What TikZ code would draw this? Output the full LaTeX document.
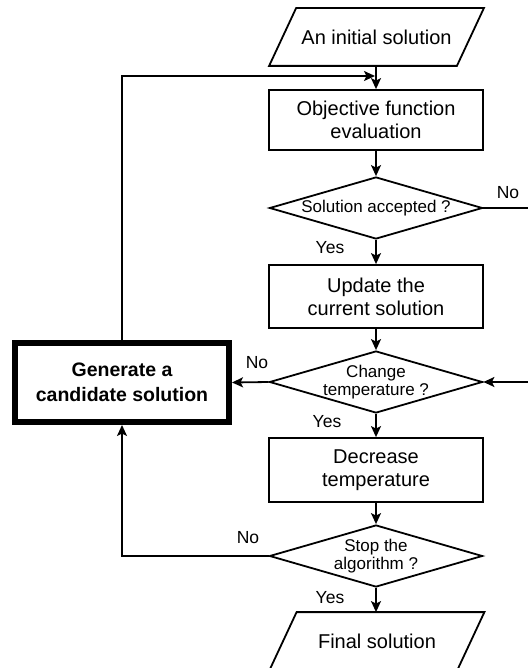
\documentclass[tikz,border=0pt]{standalone}
\usepackage{fontspec}
\setmainfont{Liberation Sans}
\usetikzlibrary{shapes.geometric,arrows.meta}
\begin{document}
\begin{tikzpicture}[x=1pt,y=-1pt,
  line width=1.8pt,
  >={Stealth[length=11pt,width=10pt,inset=2.5pt]},
  proc/.style={draw,rectangle,minimum width=214pt,minimum height=60pt,inner sep=0pt,align=center,font=\fontsize{20}{23}\selectfont},
  io/.style={rectangle,minimum width=186pt,minimum height=56pt,inner sep=0pt,font=\fontsize{20}{23}\selectfont},
  decision/.style={draw,diamond,aspect=3.43,minimum width=213pt,minimum height=62pt,inner sep=0pt},
  dtext/.style={align=center,inner sep=0pt,font=\fontsize{17}{18}\selectfont},
  lab/.style={font=\fontsize{17.5}{20}\selectfont,inner sep=0pt},
  genbox/.style={draw,rectangle,line width=6pt,minimum width=214pt,minimum height=79pt,inner sep=0pt,align=center,font=\bfseries\fontsize{19.5}{25}\selectfont}
]
\useasboundingbox (0,0) rectangle (527,668);

\node[io] (init) at (376.5,37) {An initial solution};
\draw ([xshift=13.5pt]init.north west) -- ([xshift=13.5pt]init.north east)
   -- ([xshift=-13.5pt]init.south east) -- ([xshift=-13.5pt]init.south west) -- cycle;
\node[proc] (obj) at (376,120) {Objective function\\evaluation};
\node[decision,label={[dtext]center:Solution accepted ?}] (d1) at (376,208) {};
\node[proc,minimum height=63pt] (upd) at (376,296.5) {Update the\\current solution};
\node[decision,label={[dtext]center:Change\\temperature ?}] (d2) at (376,382) {};
\node[proc,minimum height=64pt] (decr) at (376,470) {Decrease\\temperature};
\node[decision,label={[dtext]center:Stop the\\algorithm ?}] (d3) at (376,556) {};
\node[io] (fin) at (377,641) {Final solution};
\draw ([xshift=13.5pt]fin.north west) -- ([xshift=13.5pt]fin.north east)
   -- ([xshift=-13.5pt]fin.south east) -- ([xshift=-13.5pt]fin.south west) -- cycle;
\node[genbox] (gen) at (122,382.5) {Generate a\\candidate solution};

\coordinate (fb) at (122,76);
\coordinate (fbin) at (375,76);
\coordinate (r1) at (540,208);
\coordinate (r2) at (540,382);
\coordinate (s1) at (122,556);

\draw[->] (init.south -| obj.north) -- (obj.north);
\draw[->] (obj) -- (d1);
\draw[->] (d1) -- (upd);
\draw[->] (upd) -- (d2);
\draw[->] (d2) -- (decr);
\draw[->] (decr) -- (d3);
\draw[->] (d3.south) -- (fin.north -| d3.south);
\draw[->] (d1.east) -- (r1) -- (r2) -- (d2.east);
\draw[->] (d2.west) -- (gen.east);
\draw[->] (d3.west) -- (s1) -- (gen.south);
\draw[->] (gen.north) -- (fb) -- (fbin);

\node[lab] (no1) at (508,193) {No};
\node[lab] (yes1) at (330,248) {Yes};
\node[lab] (no2) at (257,363) {No};
\node[lab] (yes2) at (327,422) {Yes};
\node[lab] (no3) at (248,538) {No};
\node[lab] (yes3) at (330,598) {Yes};
\end{tikzpicture}
\end{document}
